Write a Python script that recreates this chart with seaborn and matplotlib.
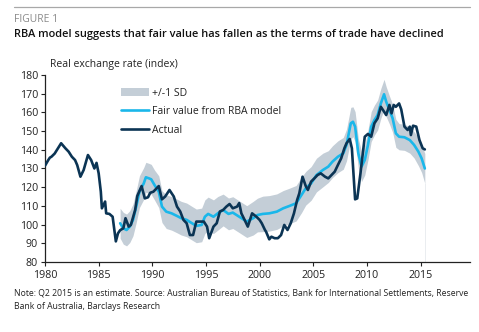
import numpy as np
import pandas as pd
import matplotlib
matplotlib.use("Agg")
import matplotlib.pyplot as plt
import seaborn as sns
from matplotlib.patches import Patch
from matplotlib.lines import Line2D

# ---- data ----
actual_years = [1980.0, 1980.3, 1980.45, 1980.6, 1980.9, 1981.5, 1981.9, 1982.2, 1982.5, 1982.8,
                1983.0, 1983.3, 1983.6, 1984.0, 1984.3, 1984.6, 1984.8, 1985.0, 1985.2, 1985.3,
                1985.6, 1985.7, 1986.0, 1986.3, 1986.6, 1986.8, 1987.0, 1987.3, 1987.5, 1987.8,
                1988.0, 1988.4, 1988.6, 1989.0, 1989.3, 1989.6, 1989.8, 1990.1, 1990.6, 1990.9,
                1991.2, 1991.6, 1992.0, 1992.3, 1992.6, 1992.9, 1993.2, 1993.5, 1993.8, 1994.1,
                1994.4, 1994.8, 1995.1, 1995.3, 1995.7, 1996.0, 1996.3, 1996.6, 1996.9, 1997.2,
                1997.5, 1997.9, 1998.1, 1998.3, 1998.6, 1998.9, 1999.3, 1999.7, 2000.0, 2000.2,
                2000.5, 2000.6, 2000.9, 2001.1, 2001.4, 2001.7, 2002.0, 2002.3, 2002.6, 2002.9,
                2003.2, 2003.5, 2003.7, 2004.0, 2004.3, 2004.5, 2004.8, 2005.1, 2005.4, 2005.7,
                2006.1, 2006.4, 2006.7, 2007.0, 2007.3, 2007.6, 2007.9, 2008.1, 2008.4, 2008.6,
                2008.9, 2009.1, 2009.4, 2009.8, 2010.1, 2010.4, 2010.7, 2011.0, 2011.3, 2011.6,
                2011.8, 2012.1, 2012.3, 2012.5, 2012.7, 2013.0, 2013.2, 2013.5, 2013.8, 2014.0,
                2014.1, 2014.3, 2014.6, 2014.9, 2015.2, 2015.4]
actual_values = [131.5, 134.5, 135.8, 136.3, 138.0, 143.5, 140.8, 139.0, 136.3, 134.5,
                 131.8, 125.6, 129.2, 137.2, 134.5, 130.0, 133.0, 127.4, 117.6, 108.7,
                 112.3, 106.0, 105.7, 104.2, 91.0, 95.3, 97.0, 98.0, 103.4, 98.9,
                 99.8, 107.8, 115.3, 120.6, 114.0, 114.6, 117.0, 117.6, 120.6, 113.5,
                 115.0, 118.5, 115.0, 109.6, 107.0, 102.5, 100.7, 94.4, 94.4, 101.6,
                 101.6, 101.6, 98.9, 92.7, 98.9, 100.7, 107.0, 107.8, 109.6, 111.0,
                 108.7, 109.6, 111.5, 106.0, 102.5, 98.9, 106.0, 104.2, 102.5, 100.7,
                 97.1, 96.2, 92.1, 93.5, 92.7, 92.7, 94.4, 99.8, 97.1, 100.7,
                 106.0, 113.2, 116.7, 125.6, 120.6, 118.5, 123.0, 124.7, 126.5, 127.4,
                 125.6, 124.7, 126.5, 128.3, 131.9, 135.4, 140.8, 143.5, 145.8, 140.8,
                 113.5, 114.0, 127.4, 147.0, 148.5, 147.0, 154.2, 156.8, 163.0, 160.4,
                 158.6, 164.0, 159.5, 164.0, 163.0, 164.8, 161.6, 152.4, 150.6, 152.4,
                 147.9, 152.9, 152.4, 145.2, 140.8, 140.2]

fv_years = [1987.0, 1987.3, 1987.6, 1987.9, 1988.2, 1988.5, 1988.8, 1989.2, 1989.4, 1989.7,
            1989.9, 1990.2, 1990.6, 1990.9, 1991.3, 1991.8, 1992.3, 1992.7, 1993.2, 1993.7,
            1994.1, 1994.6, 1994.9, 1995.2, 1995.7, 1996.1, 1996.6, 1997.1, 1997.5, 1998.1,
            1998.8, 1999.4, 1999.8, 2000.3, 2000.9, 2001.6, 2002.2, 2002.8, 2003.4, 2003.9,
            2004.3, 2004.8, 2005.3, 2005.9, 2006.4, 2006.8, 2007.3, 2007.8, 2008.1, 2008.5,
            2008.7, 2008.9, 2009.2, 2009.5, 2009.8, 2010.1, 2010.4, 2010.7, 2011.0, 2011.3,
            2011.6, 2011.8, 2012.1, 2012.4, 2012.7, 2013.0, 2013.5, 2014.0, 2014.4, 2014.8,
            2015.1, 2015.4]
fv_values = [100.7, 98.0, 97.1, 98.9, 102.5, 109.6, 117.6, 122.0, 125.3, 124.7,
             124.2, 121.2, 117.6, 109.6, 106.9, 106.0, 104.6, 103.4, 102.5, 100.7,
             99.3, 99.8, 104.2, 105.7, 104.2, 106.0, 107.8, 105.7, 106.4, 104.2,
             101.6, 103.4, 105.1, 105.7, 106.0, 106.9, 108.7, 110.0, 111.4, 115.8,
             119.4, 122.0, 126.5, 129.2, 131.0, 133.7, 136.3, 138.1, 142.6, 154.2,
             155.0, 152.4, 138.1, 131.0, 134.5, 142.6, 152.4, 155.9, 158.6, 164.8,
             169.7, 165.7, 161.3, 156.8, 148.8, 147.0, 146.7, 145.2, 142.6, 139.0,
             135.4, 130.0]
fv_sd = [8.0, 8.5, 8.5, 8.5, 8.5, 8.5, 8.5, 8.5, 8.0, 8.0,
         8.0, 8.0, 8.5, 8.5, 9.0, 9.0, 9.0, 9.0, 9.0, 9.0,
         9.0, 9.0, 9.0, 9.0, 9.0, 9.0, 8.5, 8.5, 8.5, 8.5,
         8.5, 9.0, 9.0, 9.5, 9.5, 9.5, 9.5, 9.5, 9.5, 9.5,
         9.0, 9.0, 9.0, 9.0, 8.5, 8.5, 8.5, 8.5, 8.5, 8.5,
         8.0, 8.0, 8.0, 8.0, 8.0, 8.0, 8.0, 8.0, 8.0, 8.0,
         8.0, 8.0, 7.5, 7.5, 7.5, 7.0, 7.0, 7.0, 7.0, 7.5,
         7.5, 8.0]

x_ticks = [1980, 1985, 1990, 1995, 2000, 2005, 2010, 2015]
y_ticks = [80, 90, 100, 110, 120, 130, 140, 150, 160, 170, 180]

title_text = "RBA model suggests that fair value has fallen as the terms of trade have declined"
figure_label = "FIGURE 1"
y_label = "Real exchange rate (index)"
note_text = ("Note: Q2 2015 is an estimate. Source: Australian Bureau of Statistics, Bank for International Settlements, Reserve\n"
             "Bank of Australia, Barclays Research")
legend_labels = ["+/-1 SD", "Fair value from RBA model", "Actual"]

# ---- styling ----
sns.set_theme(style="white")
plt.rcParams["font.family"] = ["Open Sans", "DejaVu Sans"]

NAVY = "#0b3454"
CYAN = "#1ab7ea"
BAND = "#c4ced7"

actual_df = pd.DataFrame({"year": actual_years, "value": actual_values})
fv_df = pd.DataFrame({"year": fv_years, "value": fv_values, "sd": fv_sd})
fv_df["lo"] = fv_df["value"] - fv_df["sd"]
fv_df["hi"] = fv_df["value"] + fv_df["sd"]

fig = plt.figure(figsize=(4.79, 3.32), dpi=100)
ax = fig.add_axes([0.094, 0.211, 0.887, 0.563])

ax.fill_between(fv_df["year"], fv_df["lo"], fv_df["hi"], color=BAND, linewidth=0, zorder=1)
ax.vlines(fv_df["year"].iloc[-1], y_ticks[0], fv_df["lo"].iloc[-1], color="#e6eaee", linewidth=0.6, zorder=1)
sns.lineplot(data=fv_df, x="year", y="value", color=CYAN, linewidth=1.9, ax=ax, zorder=2, sort=False)
sns.lineplot(data=actual_df, x="year", y="value", color=NAVY, linewidth=1.9, ax=ax, zorder=3, sort=False)

ax.set_xlim(1980, 2019.6)
ax.set_ylim(80, 180)
ax.set_xticks(x_ticks)
ax.set_yticks(y_ticks)
ax.set_xlabel("")
ax.set_ylabel("")
for s in ["top", "right"]:
    ax.spines[s].set_visible(False)
for s in ["left", "bottom"]:
    ax.spines[s].set_color("#222222")
    ax.spines[s].set_linewidth(0.9)
ax.tick_params(axis="both", which="both", direction="out", length=3, width=0.8,
               colors="#222222", labelsize=7.7, pad=2, left=True, bottom=True)
ax.tick_params(axis="x", pad=3)

handles = [Patch(facecolor=BAND, edgecolor="none"),
           Line2D([0], [0], color=CYAN, linewidth=1.9),
           Line2D([0], [0], color=NAVY, linewidth=1.9)]
leg = ax.legend(handles, legend_labels, loc="upper left", bbox_to_anchor=(0.17, 0.955),
                frameon=False, fontsize=7.5, handlelength=2.6, handleheight=0.9,
                handletextpad=0.3, labelspacing=0.75, borderaxespad=0)
for t in leg.get_texts():
    t.set_color("#222222")

# ---- text ----
fig.add_artist(Line2D([14 / 479, 470 / 479], [1 - 7 / 332, 1 - 7 / 332], color="#a8a8a8", linewidth=0.9))
fig.text(14 / 479, 1 - 20 / 332, figure_label, fontsize=7.5, color="#8a8a8a", va="center", ha="left")
fig.text(14 / 479, 1 - 35 / 332, title_text, fontsize=7.95, color="#111111", va="center", ha="left",
         fontweight="semibold")
fig.text(50 / 479, 1 - 65 / 332, y_label, fontsize=7.5, color="#222222", va="center", ha="left")
fig.text(14 / 479, 1 - 300 / 332, note_text, fontsize=6.2, color="#222222", va="center", ha="left",
         linespacing=1.6)

fig.savefig("out.png", dpi=100)
